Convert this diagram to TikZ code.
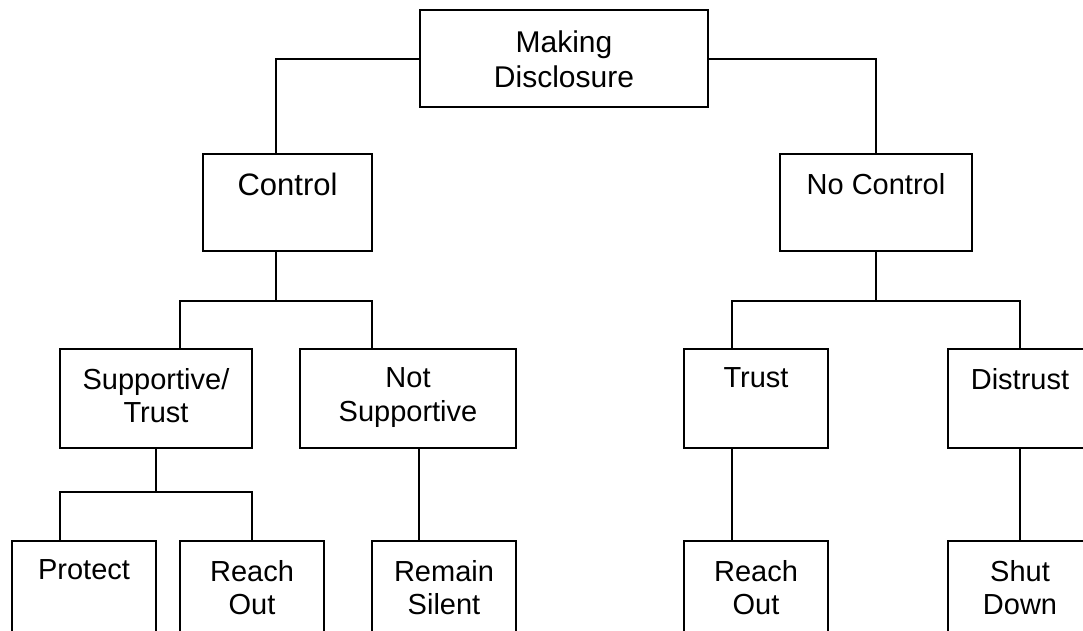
\documentclass[tikz,border=0pt]{standalone}
\usepackage{fontspec}
\setmainfont{Liberation Sans}
\begin{document}
\begin{tikzpicture}[x=1pt,y=-1pt,line width=2pt,
    stage/.style={draw,inner sep=0pt,minimum height=99pt},
    stagetxt/.style={anchor=north,yshift=-19pt,align=center,inner sep=0pt,
      font=\fontsize{29}{33.5}\selectfont}]
    \useasboundingbox (0,0) rectangle (1083,630);
    \clip (0,0) rectangle (1083,630);
    % top
    \node[stage,minimum width=288pt,minimum height=97pt,
      label={[stagetxt,yshift=-2pt,font=\fontsize{30}{35}\selectfont]north:Making\\Disclosure}] (Main) at (564,58.5) {};
    % second row
    \node[stage,minimum width=169pt,minimum height=97pt,
      label={[stagetxt,font=\fontsize{31}{35}\selectfont]north:Control}] (Control) at (287.5,202.5) {};
    \node[stage,minimum width=192pt,minimum height=97pt,
      label={[stagetxt]north:No Control}] (NoControl) at (876,202.5) {};
    % third row
    \node[stage,minimum width=192pt,label={[stagetxt]north:Supportive/\\Trust}] (SuppTrust) at (156,398.5) {};
    \node[stage,minimum width=216pt,label={[stagetxt]north:Not\\Supportive}] (NotSupp) at (408,398.5) {};
    \node[stage,minimum width=144pt,label={[stagetxt]north:Trust}] (Trust) at (756,398.5) {};
    \node[stage,minimum width=144pt,label={[stagetxt]north:Distrust}] (Distrust) at (1020,398.5) {};
    % bottom row (runs off the page)
    \node[stage,minimum width=144pt,minimum height=120pt,label={[stagetxt]north:Protect}] (Protect) at (84,601) {};
    \node[stage,minimum width=144pt,minimum height=120pt,label={[stagetxt]north:Reach\\Out}] (ReachL) at (252,601) {};
    \node[stage,minimum width=144pt,minimum height=120pt,label={[stagetxt]north:Remain\\Silent}] (Remain) at (444,601) {};
    \node[stage,minimum width=144pt,minimum height=120pt,label={[stagetxt]north:Reach\\Out}] (ReachR) at (756,601) {};
    \node[stage,minimum width=144pt,minimum height=120pt,label={[stagetxt]north:Shut\\Down}] (ShutDown) at (1020,601) {};
    % connectors
    \draw (Main.west) -| ([xshift=-11.5pt]Control.north);
    \draw (Main.east) -| (NoControl.north);
    \draw ([xshift=-11.5pt]Control.south) -- ++(0,49) coordinate (cfork);
    \draw ([xshift=24pt]SuppTrust.north) |- (cfork) -| ([xshift=-36pt]NotSupp.north);
    \draw (NoControl.south) -- ++(0,49) coordinate (ncfork);
    \draw ([xshift=-24pt]Trust.north) |- (ncfork) -| (Distrust.north);
    \draw (SuppTrust.south) -- ++(0,43) coordinate (sfork);
    \draw ([xshift=-24pt]Protect.north) |- (sfork) -| (ReachL.north);
    \draw ([xshift=11pt]NotSupp.south) -- ([xshift=-25pt]Remain.north);
    \draw ([xshift=-24pt]Trust.south) -- ([xshift=-24pt]ReachR.north);
    \draw (Distrust.south) -- (ShutDown.north);
  \end{tikzpicture}
\end{document}
